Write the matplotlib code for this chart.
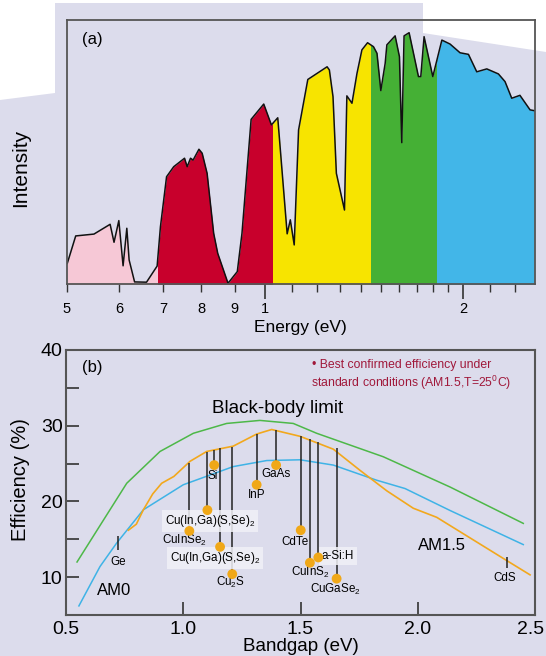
import matplotlib
matplotlib.use("Agg")
import matplotlib.pyplot as plt
from matplotlib.patches import Polygon, Rectangle
from matplotlib.transforms import ScaledTranslation

plt.rcParams["font.family"] = ["Liberation Sans", "DejaVu Sans"]
plt.rcParams["mathtext.fontset"] = "custom"
plt.rcParams["mathtext.rm"] = "Liberation Sans"
plt.rcParams["mathtext.it"] = "Liberation Sans:italic"
plt.rcParams["mathtext.bf"] = "Liberation Sans:bold"

# ---- (a) solar spectrum, intensity in arbitrary units
energy = [0.501, 0.516, 0.550, 0.582, 0.590, 0.600, 0.609, 0.617, 0.622, 0.634,
          0.661, 0.686, 0.694, 0.709, 0.727, 0.755, 0.762, 0.771, 0.778, 0.794,
          0.803, 0.817, 0.836, 0.848, 0.879, 0.908, 0.923, 0.953, 0.996, 1.023,
          1.046, 1.081, 1.093, 1.108, 1.125, 1.162, 1.243, 1.253, 1.269, 1.284,
          1.321, 1.332, 1.356, 1.380, 1.404, 1.432, 1.462, 1.480, 1.500, 1.523,
          1.532, 1.577, 1.601, 1.614, 1.627, 1.656, 1.711, 1.725, 1.745, 1.799,
          1.857, 1.911, 1.979, 2.038, 2.098, 2.173, 2.263, 2.316, 2.371, 2.440,
          2.528, 2.566]
intensity = [7.9, 18.3, 19.0, 22.7, 15.9, 24.1, 7.0, 21.2, 9.2, 0.9,
             0.8, 6.9, 21.8, 40.7, 44.5, 47.7, 44.5, 47.7, 47.0, 51.1,
             49.6, 42.0, 19.3, 11.7, 0.4, 4.8, 19.3, 62.4, 68.2, 60.3,
             63.0, 19.1, 24.4, 14.9, 58.4, 77.5, 82.3, 81.1, 71.0, 42.0,
             28.1, 71.3, 68.5, 79.8, 88.7, 91.4, 89.9, 87.4, 73.3, 83.6,
             90.6, 94.0, 86.1, 53.6, 94.0, 95.2, 78.6, 78.6, 93.7, 78.6,
             92.4, 90.9, 87.6, 87.0, 80.4, 81.5, 79.6, 76.7, 70.4, 71.5,
             66.0, 65.7]
band_edges = [0.5, 0.688, 1.027, 1.45, 1.826, 2.58]
band_colors = ["#f6c8d6", "#c8002c", "#f7e400", "#45b035", "#42b6e8"]

# ---- (b) efficiency limits vs bandgap
bb_gap = [0.547, 0.659, 0.759, 0.901, 1.043, 1.185, 1.327, 1.469, 1.569, 1.853, 2.138, 2.450]
bb_eff = [12.0, 17.5, 22.4, 26.6, 29.0, 30.3, 30.7, 30.3, 29.0, 25.9, 21.9, 17.1]
am0_gap = [0.555, 0.645, 0.716, 0.830, 1.000, 1.213, 1.356, 1.498, 1.640, 1.825, 1.946, 2.138, 2.450]
am0_eff = [6.2, 11.4, 14.5, 18.9, 22.2, 24.6, 25.4, 25.5, 24.8, 22.8, 21.7, 18.8, 14.3]
am15_gap = [0.766, 0.800, 0.830, 0.870, 0.908, 0.960, 1.029, 1.100, 1.213, 1.313, 1.377,
            1.498, 1.640, 1.754, 1.868, 1.981, 2.081, 2.379, 2.479]
am15_eff = [16.2, 17.0, 18.9, 21.0, 22.4, 23.3, 25.3, 26.6, 27.3, 28.9, 29.5,
            28.6, 26.9, 24.1, 21.4, 19.1, 17.9, 12.2, 10.3]

materials = ["CuInSe$_2$", "Cu(In,Ga)(S,Se)$_2$", "Si", "Cu(In,Ga)(S,Se)$_2$", "Cu$_2$S",
             "InP", "GaAs", "CdTe", "CuInS$_2$", "a-Si:H", "CuGaSe$_2$"]
mat_gap = [1.026, 1.103, 1.132, 1.157, 1.209, 1.313, 1.396, 1.501, 1.540, 1.576, 1.654]
mat_eff = [16.1, 18.85, 24.8, 14.0, 10.4, 22.2, 24.8, 16.2, 11.9, 12.6, 9.8]
mat_top = [25.1, 26.55, 26.8, 27.0, 27.2, 28.9, 29.5, 28.6, 28.2, 27.9, 27.0]

mark_names = ["Ge", "CdS"]
mark_gap = [0.723, 2.379]
mark_lo = [13.65, 11.15]
mark_hi = [15.45, 12.7]

# label placement for panel (b), data coords
label_xy = [(1.007, 14.9), (1.114, 17.4), (1.124, 23.4), (1.135, 12.5), (1.202, 9.3),
            (1.313, 20.9), (1.394, 23.6), (1.477, 14.7), (1.540, 10.6), (1.590, 12.8),
            (1.647, 8.4)]
boxed = {1, 3, 9}
mark_label_xy = [(0.723, 12.0), (2.372, 9.9)]

W, H = 546, 656
fig = plt.figure(figsize=(W / 100, H / 100), dpi=100)
fig.patch.set_facecolor("white")
bg_px = [(0, 100), (55, 93), (55, 3), (423, 3), (423, 33), (546, 52), (546, 656), (0, 656)]
fig.patches.append(Polygon([(x / W, 1 - y / H) for x, y in bg_px], closed=True,
                           transform=fig.transFigure, facecolor="#dcdcec", edgecolor="none", zorder=-10))

# ---------------- panel (a)
ax1 = fig.add_axes([66.7 / W, 1 - 284.3 / H, (535 - 66.7) / W, (284.3 - 20) / H])
ax1.set_facecolor("none")
ax1.set_xscale("log")
ax1.set_xlim(0.5, 2.572)
ax1.set_ylim(0, 100)

for lo, hi, col in zip(band_edges[:-1], band_edges[1:], band_colors):
    poly = ax1.fill_between(energy, 0, intensity, color=col, lw=0, zorder=1)
    poly.set_clip_path(Rectangle((lo, 0), hi - lo, 100, transform=ax1.transData))
ax1.plot(energy, intensity, color="#111111", lw=1.1, zorder=2)

ax1.set_xticks([1, 2], ["1", "2"])
ax1.set_xticks([0.5, 0.6, 0.7, 0.8, 0.9, 1.1, 1.2, 1.3, 1.4, 1.5, 1.6, 1.7, 1.8, 1.9, 2.2, 2.4],
               ["5", "6", "7", "8", "9"] + [""] * 11, minor=True)
ax1.tick_params(axis="x", which="major", length=10.8, width=1.2, color="#333333", labelsize=10.5, pad=2.2)
ax1.tick_params(axis="x", which="minor", length=5.8, width=1.0, color="#333333", labelsize=10.5, pad=7.2)
ax1.set_yticks([])
for s in ax1.spines.values():
    s.set_color("#555555")
    s.set_linewidth(1.3)
ax1.set_xlabel("Energy (eV)", fontsize=12.5)
ax1.xaxis.set_label_coords(0.5, -0.135)
ax1.set_ylabel("Intensity", fontsize=15)
ax1.yaxis.set_label_coords(-0.078, 0.44)
ax1.text(0.033, 0.928, "(a)", transform=ax1.transAxes, fontsize=12, va="center", ha="left")

# ---------------- panel (b)
ax2 = fig.add_axes([66 / W, 1 - 615 / H, (535 - 66) / W, (615 - 350) / H])
ax2.set_facecolor("none")
ax2.set_xlim(0.5, 2.5)
ax2.set_ylim(5, 40)

ax2.plot(bb_gap, bb_eff, color="#4db848", lw=1.1, zorder=2)
ax2.plot(am0_gap, am0_eff, color="#3fb3e6", lw=1.1, zorder=2)
ax2.plot(am15_gap, am15_eff, color="#f2a81d", lw=1.2, zorder=2)

ax2.vlines(mat_gap, mat_eff, mat_top, color="#222222", lw=1.1, zorder=3)
ax2.vlines(mark_gap, mark_lo, mark_hi, color="#222222", lw=1.1, zorder=3)
ax2.scatter(mat_gap, mat_eff, s=50, color="#f0a818", edgecolors="none", zorder=6)

for i, (name, (lx, ly)) in enumerate(zip(materials, label_xy)):
    kw = {}
    if i in boxed:
        kw["bbox"] = dict(boxstyle="square,pad=0.25", facecolor="#f1f1f7", edgecolor="none", alpha=0.85)
    ax2.text(lx, ly, name, fontsize=8.4, ha="left" if name == "a-Si:H" else "center",
             va="center", zorder=5, **kw)
for name, (lx, ly) in zip(mark_names, mark_label_xy):
    ax2.text(lx, ly, name, fontsize=8.4, ha="center", va="center", zorder=5)

ax2.text(0.568, 37.7, "(b)", fontsize=12, va="center", ha="left")
ax2.text(1.123, 32.3, "Black-body limit", fontsize=13.5, va="center", ha="left")
ax2.text(0.632, 8.3, "AM0", fontsize=12, va="center", ha="left")
ax2.text(2.001, 14.2, "AM1.5", fontsize=12, va="center", ha="left")
ax2.text(1.549, 38.0, "\u2022 Best confirmed efficiency under", fontsize=8.8, color="#a0183a",
         va="center", ha="left")
ax2.text(1.545, 35.6, "standard conditions (AM1.5,T=25$^{0}$C)", fontsize=8.8, color="#a0183a",
         va="center", ha="left")

ax2.set_xticks([0.5, 1.0, 1.5, 2.0, 2.5], ["0.5", "1.0", "1.5", "2.0", "2.5"])
ax2.set_yticks([10, 15, 20, 25, 30, 35, 40], ["10", "", "20", "", "30", "", "40"])
ax2.tick_params(direction="in", length=9.4, width=1.2, color="#333333", labelsize=14, pad=4)
ax2.tick_params(axis="y", pad=2.5)
last = ax2.get_xticklabels()[-1]
last.set_transform(last.get_transform() + ScaledTranslation(-3 / 72, 0, fig.dpi_scale_trans))
for s in ax2.spines.values():
    s.set_color("#555555")
    s.set_linewidth(1.5)
ax2.set_xlabel("Bandgap (eV)", fontsize=13.5)
ax2.xaxis.set_label_coords(0.5, -0.085)
ax2.set_ylabel("Efficiency (%)", fontsize=14.5)
ax2.yaxis.set_label_coords(-0.077, 0.51)

fig.savefig("out.png", dpi=100, facecolor="white")
